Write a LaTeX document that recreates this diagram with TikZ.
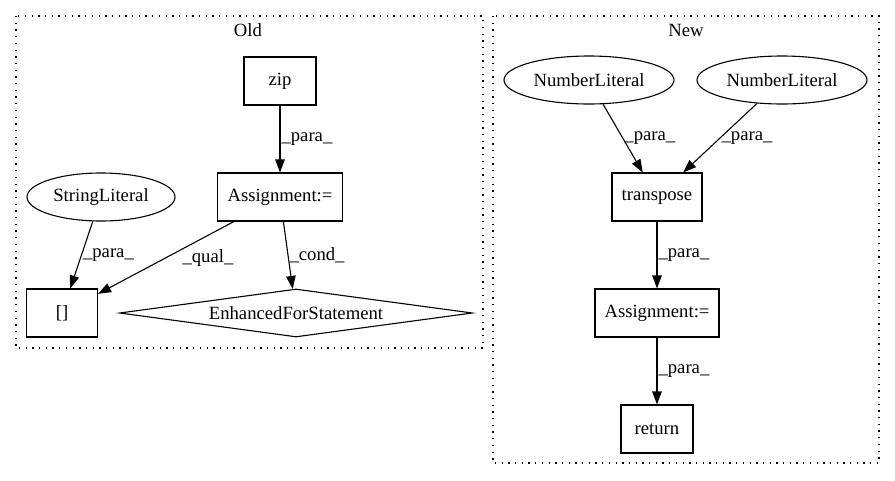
\documentclass[tikz,border=0pt]{standalone}
\usepackage{fontspec}
\setmainfont{Liberation Serif}
\usetikzlibrary{arrows.meta,shapes.geometric}
\tikzset{
  every node/.style={font=\fontsize{18.67}{22}\selectfont},
  box/.style={draw,rectangle,line width=1.1pt,inner sep=0pt,minimum height=48pt},
  oval/.style={draw,ellipse,line width=1.1pt,inner sep=0pt,minimum height=48pt},
  cond/.style={draw,diamond,line width=1.1pt,aspect=7.35,inner sep=0pt,minimum width=353pt,minimum height=48pt},
  cluster/.style={draw,line width=1.3pt,dash pattern=on 1.3pt off 5.4pt},
  link/.style={line width=1.1pt,-{Triangle[length=13pt,width=9.5pt]}},
  elab/.style={anchor=west,inner sep=1pt},
}
\begin{document}
\begin{tikzpicture}[x=1pt,y=-1pt]
        \useasboundingbox (0,0) rectangle (895,480);
        % clusters
        \draw[cluster] (16,16) rectangle (483,348);
        \node (old) at (248,30) {Old};
        \draw[cluster] (493,16) rectangle (879,463);
        \node (new) at (686,30) {New};
        % old
        \node[box,minimum width=72pt] (zip) at (280,81) {zip};
        \node[box,minimum width=125pt] (asg) at (280,197) {Assignment:=};
        \node[oval,minimum width=148pt] (strlit) at (101,197) {StringLiteral};
        \node[box,minimum width=71pt] (idx) at (62,313) {[]};
        \node[cond] (efs) at (296,313) {EnhancedForStatement};
        \draw[link] (zip) -- node[elab]{\_para\_} (asg);
        \draw[link] (strlit) -- node[elab]{\_para\_} (idx);
        \draw[link] (asg) -- node[elab,xshift=15pt]{\_qual\_} (idx);
        \draw[link] (asg) -- node[elab]{\_cond\_} (efs);
        % new
        \node[oval,minimum width=170pt] (num1) at (589,80) {NumberLiteral};
        \node[oval,minimum width=170pt] (num2) at (782,80) {NumberLiteral};
        \node[box,minimum width=90pt] (trans) at (657,197) {transpose};
        \node[box,minimum width=124pt] (asg2) at (657,313) {Assignment:=};
        \node[box,minimum width=72pt] (ret) at (657,429) {return};
        \draw[link] (num1) -- node[elab]{\_para\_} (trans);
        \draw[link] (num2) -- node[elab]{\_para\_} (trans);
        \draw[link] (trans) -- node[elab]{\_para\_} (asg2);
        \draw[link] (asg2) -- node[elab]{\_para\_} (ret);
\end{tikzpicture}
\end{document}
